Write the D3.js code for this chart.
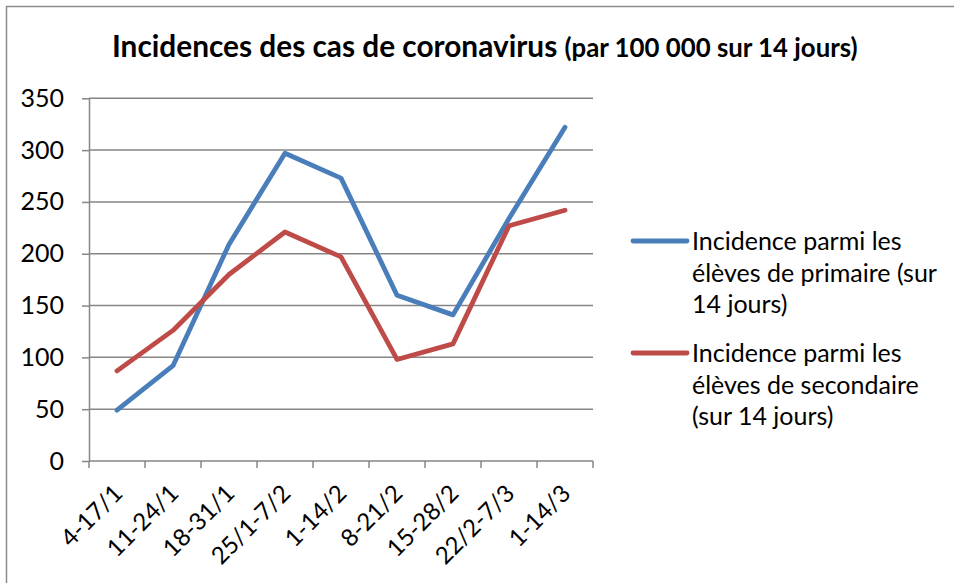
<!DOCTYPE html>
<meta charset="utf-8">
<html>

<head>
  <script src="https://d3js.org/d3.v7.min.js"></script>
  <style>
    body {
      margin: 0;
      background-color: white;
    }

    text {
      font-family: 'Lato', sans-serif;
      fill: black;
    }

    .x-axis text {
      font-size: 24px;
    }

    .y-axis text {
      font-size: 25px;
    }

    .y-axis path,
    .x-axis path {
      stroke: #868686;
      stroke-width: 1.5;
    }

    .y-axis line,
    .x-axis line {
      stroke: #868686;
      stroke-width: 1.5;
    }

    .legend text {
      font-size: 25px;
    }
  </style>
</head>

<body>
  <script>
    //Chart data
    var weeks = ["4-17/1", "11-24/1", "18-31/1", "25/1-7/2", "1-14/2", "8-21/2", "15-28/2", "22/2-7/3", "1-14/3"];
    var primaire = [49, 92, 209, 297, 273, 160, 141, 234, 322];
    var secondaire = [87, 126, 180, 221, 197, 98, 113, 227, 242];
    var yTicks = [0, 50, 100, 150, 200, 250, 300, 350];
    var seriesNames = [
      ["Incidence parmi les", "élèves de primaire (sur", "14 jours)"],
      ["Incidence parmi les", "élèves de secondaire", "(sur 14 jours)"]
    ];
    var colors = ["#4A7EBB", "#BE4B48"];

    //Size and plot box
    var W = 954, H = 583;
    var plot = { left: 89, right: 593, top: 98.3, bottom: 461 };

    var svg = d3.select("body")
      .append("svg")
      .attr("width", W)
      .attr("height", H);

    //Outer frame
    svg.append("rect")
      .attr("x", 6.5)
      .attr("y", 6.5)
      .attr("width", W + 10)
      .attr("height", H + 10)
      .attr("fill", "white")
      .attr("stroke", "#8c8c8c")
      .attr("stroke-width", 1.5);

    //Scales
    var x = d3.scaleBand()
      .domain(weeks)
      .range([plot.left, plot.right]);

    var y = d3.scaleLinear()
      .domain([0, 350])
      .range([plot.bottom, plot.top]);

    //Gridlines
    svg.append("g")
      .selectAll("line")
      .data(yTicks.filter(d => d > 0))
      .enter()
      .append("line")
      .attr("x1", plot.left)
      .attr("x2", plot.right)
      .attr("y1", d => y(d))
      .attr("y2", d => y(d))
      .attr("stroke", "#868686")
      .attr("stroke-width", 1.5);

    //Y axis
    svg.append("g")
      .attr("class", "y-axis")
      .attr("transform", `translate(${plot.left}, 0)`)
      .call(d3.axisLeft(y)
        .tickValues(yTicks)
        .tickSize(7)
        .tickSizeOuter(0)
        .tickPadding(18));

    //X axis with ticks on category boundaries
    var xg = svg.append("g")
      .attr("class", "x-axis")
      .attr("transform", `translate(0, ${plot.bottom})`);

    xg.append("line")
      .attr("x1", plot.left)
      .attr("x2", plot.right);

    xg.selectAll(".tick")
      .data(weeks.concat(["end"]))
      .enter()
      .append("line")
      .attr("class", "tick")
      .attr("x1", (d, i) => i < weeks.length ? x(d) : plot.right)
      .attr("x2", (d, i) => i < weeks.length ? x(d) : plot.right)
      .attr("y1", 0)
      .attr("y2", 7);

    xg.selectAll("text")
      .data(weeks)
      .enter()
      .append("text")
      .attr("text-anchor", "end")
      .attr("transform", d => `translate(${x(d) + x.bandwidth() / 2 + 7}, 34) rotate(-45)`)
      .text(d => d);

    //Lines
    var line = d3.line()
      .x((d, i) => x(weeks[i]) + x.bandwidth() / 2)
      .y(d => y(d));

    svg.selectAll(".series")
      .data([primaire, secondaire])
      .enter()
      .append("path")
      .attr("class", "series")
      .attr("d", line)
      .attr("fill", "none")
      .attr("stroke", (d, i) => colors[i])
      .attr("stroke-width", 4.8)
      .attr("stroke-linejoin", "round")
      .attr("stroke-linecap", "round");

    //Title
    var title = svg.append("text")
      .attr("x", 112)
      .attr("y", 57)
      .attr("font-weight", "bold");
    title.append("tspan")
      .attr("font-size", "29.8px")
      .text("Incidences des cas de coronavirus ");
    title.append("tspan")
      .attr("font-size", "25.8px")
      .text("(par 100 000 sur 14 jours)");

    //Legend
    var legend = svg.append("g")
      .attr("class", "legend");

    var entries = legend.selectAll("g")
      .data(seriesNames)
      .enter()
      .append("g")
      .attr("transform", (d, i) => `translate(0, ${i * 112})`);

    entries.append("line")
      .attr("x1", 633)
      .attr("x2", 687)
      .attr("y1", 241)
      .attr("y2", 241)
      .attr("stroke", (d, i) => colors[i])
      .attr("stroke-width", 4.8)
      .attr("stroke-linecap", "round");

    entries.selectAll("text")
      .data(d => d)
      .enter()
      .append("text")
      .attr("x", 692)
      .attr("y", (d, i) => 250 + i * 31.5)
      .text(d => d);
  </script>
</body>

</html>
